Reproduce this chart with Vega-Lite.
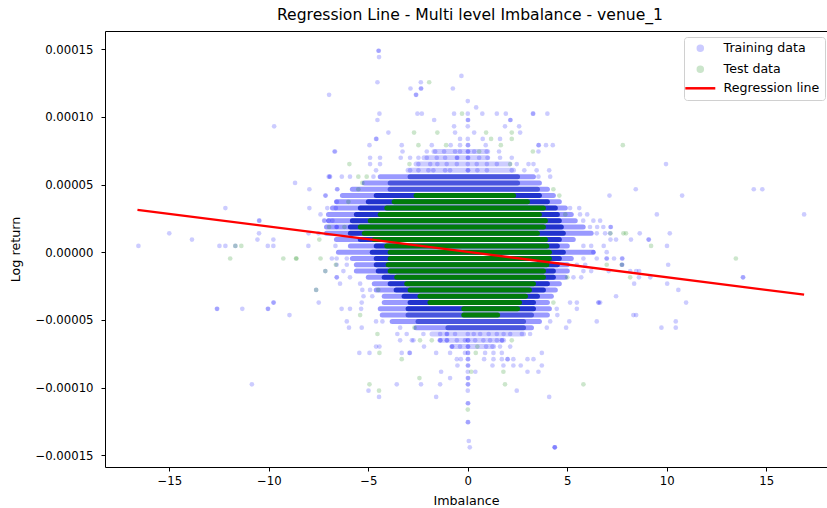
{
"$schema":"https://vega.github.io/schema/vega-lite/v6.json",
"width":722,"height":436,
"autosize":"none",
"padding":{"left":105,"top":31,"right":0,"bottom":41},
"title":{"text":"Regression Line - Multi level Imbalance - venue_1","fontSize":15.6,"font":"DejaVu Sans","fontWeight":"normal","color":"black","offset":7,"dx":4},
"config":{
 "font":"DejaVu Sans",
 "view":{"stroke":"black","strokeWidth":1},
 "axis":{"labelFont":"DejaVu Sans","labelFontSize":11.7,"labelColor":"black","titleFont":"DejaVu Sans","titleFontSize":12.7,"titleFontWeight":"normal","titleColor":"black","tickColor":"black","tickSize":4,"domain":false,"grid":false,"labelPadding":4},
 "legend":{"labelFont":"DejaVu Sans","labelFontSize":12.6,"labelColor":"black","fillColor":"white","strokeColor":"#d0d0d0","cornerRadius":3,"padding":5,"rowPadding":5,"labelOffset":17,"symbolOffset":5,"symbolStrokeWidth":2.5}
},
"datasets":{
"faint":[
{"ret":7.44e-5,"imb_lo":-1.7,"imb_hi":1.0},
{"ret":6.975e-5,"imb_lo":-2.2,"imb_hi":1.0},
{"ret":6.51e-5,"imb_lo":-2.6,"imb_hi":2.1},
{"ret":6.045e-5,"imb_lo":-3.0,"imb_hi":2.3},
{"ret":-6.045e-5,"imb_lo":-1.8,"imb_hi":2.8},
{"ret":-6.51e-5,"imb_lo":-1.4,"imb_hi":1.8},
{"ret":-6.975e-5,"imb_lo":-0.8,"imb_hi":1.3}
],
"outer":[
{"ret":5.58e-5,"imb_lo":-4.4,"imb_hi":3.3},
{"ret":5.115e-5,"imb_lo":-5.2,"imb_hi":3.6},
{"ret":4.65e-5,"imb_lo":-5.8,"imb_hi":4.0},
{"ret":4.185e-5,"imb_lo":-6.3,"imb_hi":4.3},
{"ret":3.72e-5,"imb_lo":-6.6,"imb_hi":4.6},
{"ret":3.255e-5,"imb_lo":-6.8,"imb_hi":4.9},
{"ret":2.79e-5,"imb_lo":-7.0,"imb_hi":5.2},
{"ret":2.325e-5,"imb_lo":-7.0,"imb_hi":5.4},
{"ret":1.86e-5,"imb_lo":-7.1,"imb_hi":5.8},
{"ret":1.395e-5,"imb_lo":-7.1,"imb_hi":6.2},
{"ret":9.3e-6,"imb_lo":-6.6,"imb_hi":5.3},
{"ret":4.65e-6,"imb_lo":-5.9,"imb_hi":5.0},
{"ret":0,"imb_lo":-6.5,"imb_hi":6.3},
{"ret":-4.65e-6,"imb_lo":-5.8,"imb_hi":5.2},
{"ret":-9.3e-6,"imb_lo":-5.6,"imb_hi":5.0},
{"ret":-1.395e-5,"imb_lo":-5.6,"imb_hi":5.0},
{"ret":-1.86e-5,"imb_lo":-5.0,"imb_hi":4.9},
{"ret":-2.325e-5,"imb_lo":-4.7,"imb_hi":4.6},
{"ret":-2.79e-5,"imb_lo":-4.6,"imb_hi":4.4},
{"ret":-3.255e-5,"imb_lo":-4.2,"imb_hi":4.2},
{"ret":-3.72e-5,"imb_lo":-4.2,"imb_hi":4.0},
{"ret":-4.185e-5,"imb_lo":-4.4,"imb_hi":4.1},
{"ret":-4.65e-5,"imb_lo":-4.3,"imb_hi":4.0},
{"ret":-5.115e-5,"imb_lo":-3.8,"imb_hi":3.6},
{"ret":-5.58e-5,"imb_lo":-2.6,"imb_hi":3.2}
],
"mid":[
{"ret":5.58e-5,"imb_lo":-2.9,"imb_hi":2.5},
{"ret":5.115e-5,"imb_lo":-3.9,"imb_hi":2.5},
{"ret":4.65e-5,"imb_lo":-3.9,"imb_hi":3.5},
{"ret":-4.65e-5,"imb_lo":-3.0,"imb_hi":3.2},
{"ret":-5.115e-5,"imb_lo":-2.5,"imb_hi":2.8},
{"ret":-5.58e-5,"imb_lo":-1.0,"imb_hi":2.8}
],
"inner":[
{"ret":4.185e-5,"imb_lo":-4.6,"imb_hi":3.6},
{"ret":3.72e-5,"imb_lo":-5.0,"imb_hi":4.0},
{"ret":3.255e-5,"imb_lo":-5.4,"imb_hi":4.4},
{"ret":2.79e-5,"imb_lo":-5.6,"imb_hi":4.5},
{"ret":2.325e-5,"imb_lo":-5.8,"imb_hi":4.6},
{"ret":1.86e-5,"imb_lo":-5.9,"imb_hi":4.7},
{"ret":1.395e-5,"imb_lo":-5.9,"imb_hi":4.8},
{"ret":9.3e-6,"imb_lo":-5.4,"imb_hi":4.6},
{"ret":4.65e-6,"imb_lo":-4.6,"imb_hi":4.5},
{"ret":0,"imb_lo":-4.8,"imb_hi":4.8},
{"ret":-4.65e-6,"imb_lo":-4.6,"imb_hi":4.6},
{"ret":-9.3e-6,"imb_lo":-4.6,"imb_hi":4.5},
{"ret":-1.395e-5,"imb_lo":-4.5,"imb_hi":4.3},
{"ret":-1.86e-5,"imb_lo":-4.2,"imb_hi":4.3},
{"ret":-2.325e-5,"imb_lo":-3.9,"imb_hi":4.0},
{"ret":-2.79e-5,"imb_lo":-3.6,"imb_hi":3.8},
{"ret":-3.255e-5,"imb_lo":-3.2,"imb_hi":3.5},
{"ret":-3.72e-5,"imb_lo":-2.9,"imb_hi":3.3},
{"ret":-4.185e-5,"imb_lo":-3.0,"imb_hi":3.3}
],
"green":[
{"ret":4.185e-5,"imb_lo":-2.6,"imb_hi":2.3},
{"ret":3.72e-5,"imb_lo":-3.7,"imb_hi":3.0},
{"ret":3.255e-5,"imb_lo":-4.07,"imb_hi":3.8},
{"ret":2.79e-5,"imb_lo":-4.4,"imb_hi":3.6},
{"ret":2.325e-5,"imb_lo":-4.9,"imb_hi":3.9},
{"ret":1.86e-5,"imb_lo":-5.4,"imb_hi":3.8},
{"ret":1.395e-5,"imb_lo":-5.2,"imb_hi":3.5},
{"ret":9.3e-6,"imb_lo":-4.7,"imb_hi":3.9},
{"ret":4.65e-6,"imb_lo":-4.07,"imb_hi":3.97},
{"ret":0,"imb_lo":-3.9,"imb_hi":4.1},
{"ret":-4.65e-6,"imb_lo":-3.9,"imb_hi":4.1},
{"ret":-9.3e-6,"imb_lo":-4.0,"imb_hi":3.97},
{"ret":-1.395e-5,"imb_lo":-3.9,"imb_hi":3.8},
{"ret":-1.86e-5,"imb_lo":-3.57,"imb_hi":3.8},
{"ret":-2.325e-5,"imb_lo":-3.07,"imb_hi":3.3},
{"ret":-2.79e-5,"imb_lo":-2.9,"imb_hi":3.1},
{"ret":-3.255e-5,"imb_lo":-2.4,"imb_hi":2.9},
{"ret":-3.72e-5,"imb_lo":-1.9,"imb_hi":2.6},
{"ret":-4.185e-5,"imb_lo":-0.2,"imb_hi":2.5},
{"ret":-4.65e-5,"imb_lo":-0.2,"imb_hi":1.5}
],
"train":[
{"imb":-6.97,"ret":1.1625e-4},{"imb":-9.73,"ret":9.3e-5},{"imb":-6.7,"ret":7.44e-5},{"imb":-6.99,"ret":5.58e-5},{"imb":-6.95,"ret":5.58e-5},{"imb":-8.68,"ret":5.115e-5},{"imb":-7.96,"ret":4.65e-5},{"imb":-6.55,"ret":4.65e-5},{"imb":-6.57,"ret":4.65e-5},{"imb":-7.16,"ret":4.185e-5},{"imb":-7.14,"ret":4.185e-5},{"imb":-6.58,"ret":3.72e-5},{"imb":-12.18,"ret":3.255e-5},{"imb":-7.96,"ret":3.255e-5},{"imb":-7.06,"ret":3.255e-5},{"imb":-6.63,"ret":3.255e-5},{"imb":-10.49,"ret":2.325e-5},{"imb":-10.47,"ret":2.325e-5},{"imb":-7.22,"ret":2.325e-5},{"imb":-6.99,"ret":2.325e-5},{"imb":-6.8,"ret":2.325e-5},{"imb":-7.2,"ret":2.325e-5},{"imb":-6.58,"ret":1.86e-5},{"imb":-6.6,"ret":1.86e-5},{"imb":-15.0,"ret":1.395e-5},{"imb":-10.49,"ret":1.395e-5},{"imb":-13.86,"ret":9.3e-6},{"imb":-10.57,"ret":9.3e-6},{"imb":-9.77,"ret":9.3e-6},{"imb":-16.55,"ret":4.65e-6},{"imb":-12.48,"ret":4.65e-6},{"imb":-12.18,"ret":4.65e-6},{"imb":-11.68,"ret":4.65e-6},{"imb":-10.05,"ret":4.65e-6},{"imb":-9.77,"ret":4.65e-6},{"imb":-8.01,"ret":4.65e-6},{"imb":-6.65,"ret":4.65e-6},{"imb":-6.83,"ret":-4.65e-6},{"imb":-7.16,"ret":-1.395e-5},{"imb":-6.58,"ret":-1.86e-5},{"imb":-7.62,"ret":-2.79e-5},{"imb":-7.49,"ret":-3.72e-5},{"imb":-12.61,"ret":-4.185e-5},{"imb":-12.59,"ret":-4.185e-5},{"imb":-11.33,"ret":-4.185e-5},{"imb":-10.05,"ret":-4.185e-5},{"imb":-10.03,"ret":-4.185e-5},{"imb":-9.77,"ret":-3.72e-5},{"imb":-9.75,"ret":-3.72e-5},{"imb":-8.96,"ret":-4.65e-5},{"imb":-10.85,"ret":-9.765e-5},
{"imb":9.96,"ret":6.51e-5},{"imb":7.12,"ret":4.185e-5},{"imb":8.44,"ret":4.65e-5},{"imb":10.77,"ret":4.185e-5},{"imb":14.37,"ret":4.65e-5},{"imb":14.8,"ret":4.65e-5},{"imb":9.5,"ret":2.79e-5},{"imb":16.9,"ret":2.79e-5},{"imb":6.65,"ret":2.325e-5},{"imb":6.81,"ret":1.86e-5},{"imb":7.17,"ret":1.86e-5},{"imb":7.19,"ret":1.86e-5},{"imb":8.64,"ret":1.395e-5},{"imb":10.15,"ret":1.395e-5},{"imb":7.17,"ret":9.3e-6},{"imb":7.45,"ret":9.3e-6},{"imb":8.2,"ret":9.3e-6},{"imb":9.08,"ret":9.3e-6},{"imb":9.1,"ret":9.3e-6},{"imb":10.01,"ret":4.65e-6},{"imb":6.83,"ret":4.65e-6},{"imb":6.97,"ret":-4.65e-6},{"imb":6.99,"ret":-4.65e-6},{"imb":7.35,"ret":-4.65e-6},{"imb":7.75,"ret":-4.65e-6},{"imb":7.77,"ret":-4.65e-6},{"imb":7.74,"ret":-9.3e-6},{"imb":7.76,"ret":-9.3e-6},{"imb":10.07,"ret":-9.3e-6},{"imb":7.08,"ret":-1.395e-5},{"imb":8.16,"ret":-1.395e-5},{"imb":8.46,"ret":-1.395e-5},{"imb":8.61,"ret":-1.395e-5},{"imb":8.6,"ret":-1.86e-5},{"imb":9.17,"ret":-1.86e-5},{"imb":13.82,"ret":-1.86e-5},{"imb":13.84,"ret":-1.86e-5},{"imb":8.36,"ret":-2.325e-5},{"imb":10.02,"ret":-2.325e-5},{"imb":10.58,"ret":-2.79e-5},{"imb":7.45,"ret":-3.255e-5},{"imb":10.97,"ret":-3.72e-5},{"imb":6.65,"ret":-3.72e-5},{"imb":8.32,"ret":-4.65e-5},{"imb":8.46,"ret":-4.65e-5},{"imb":10.45,"ret":-5.115e-5},{"imb":9.73,"ret":-5.58e-5},{"imb":10.45,"ret":-5.58e-5},
{"imb":-4.49,"ret":1.488e-4},{"imb":-4.47,"ret":1.488e-4},{"imb":-4.46,"ret":1.4415e-4},{"imb":-0.32,"ret":1.302e-4},{"imb":-4.54,"ret":1.2555e-4},{"imb":-2.36,"ret":1.2555e-4},{"imb":-2.88,"ret":1.209e-4},{"imb":-2.36,"ret":1.209e-4},{"imb":-2.34,"ret":1.209e-4},{"imb":-0.75,"ret":1.209e-4},{"imb":-2.61,"ret":1.1625e-4},{"imb":-2.59,"ret":1.1625e-4},{"imb":0,"ret":1.116e-4},{"imb":0.42,"ret":1.0695e-4},
{"imb":-4.44,"ret":1.023e-4},{"imb":-2.53,"ret":1.023e-4},{"imb":-2.31,"ret":1.023e-4},{"imb":-0.69,"ret":1.023e-4},{"imb":0,"ret":1.023e-4},{"imb":0.73,"ret":1.023e-4},{"imb":1.46,"ret":1.023e-4},{"imb":1.91,"ret":1.023e-4},{"imb":3.27,"ret":1.023e-4},{"imb":3.29,"ret":1.023e-4},{"imb":4.0,"ret":1.023e-4},
{"imb":-4.54,"ret":9.765e-5},{"imb":-1.69,"ret":9.765e-5},{"imb":0,"ret":9.765e-5},{"imb":0.02,"ret":9.765e-5},{"imb":2.13,"ret":9.765e-5},{"imb":2.15,"ret":9.765e-5},
{"imb":-0.69,"ret":9.3e-5},{"imb":0,"ret":9.3e-5},{"imb":1.87,"ret":9.3e-5},{"imb":2.58,"ret":9.3e-5},
{"imb":-3.99,"ret":8.835e-5},{"imb":-0.64,"ret":8.835e-5},{"imb":0.32,"ret":8.835e-5},{"imb":2.63,"ret":8.835e-5},
{"imb":-4.61,"ret":8.37e-5},{"imb":-4.59,"ret":8.37e-5},{"imb":-0.39,"ret":8.37e-5},{"imb":0,"ret":8.37e-5},{"imb":0.75,"ret":8.37e-5},{"imb":1.62,"ret":8.37e-5},
{"imb":-4.94,"ret":7.905e-5},{"imb":-3.32,"ret":7.905e-5},{"imb":-1.81,"ret":7.905e-5},{"imb":-0.86,"ret":7.905e-5},{"imb":-0.39,"ret":7.905e-5},{"imb":0,"ret":7.905e-5},{"imb":0.02,"ret":7.905e-5},{"imb":0.9,"ret":7.905e-5},{"imb":3.55,"ret":7.905e-5},{"imb":3.57,"ret":7.905e-5},{"imb":3.93,"ret":7.905e-5},{"imb":4.27,"ret":7.905e-5},
{"imb":-6.67,"ret":7.44e-5},{"imb":-3.28,"ret":7.44e-5},{"imb":-2.06,"ret":7.44e-5},{"imb":-1.64,"ret":7.44e-5},{"imb":-1.19,"ret":7.44e-5},{"imb":-0.64,"ret":7.44e-5},{"imb":-0.39,"ret":7.44e-5},{"imb":0,"ret":7.44e-5},{"imb":0.02,"ret":7.44e-5},{"imb":0.32,"ret":7.44e-5},{"imb":0.95,"ret":7.44e-5},{"imb":1.57,"ret":7.44e-5},{"imb":3.55,"ret":7.44e-5},
{"imb":-4.91,"ret":6.975e-5},{"imb":-4.41,"ret":6.975e-5},{"imb":-3.37,"ret":6.975e-5},{"imb":-2.9,"ret":6.975e-5},{"imb":-2.48,"ret":6.975e-5},{"imb":-2.06,"ret":6.975e-5},{"imb":-1.56,"ret":6.975e-5},{"imb":-1.14,"ret":6.975e-5},{"imb":-0.55,"ret":6.975e-5},{"imb":-0.53,"ret":6.975e-5},{"imb":0,"ret":6.975e-5},{"imb":0.02,"ret":6.975e-5},{"imb":0.57,"ret":6.975e-5},{"imb":0.99,"ret":6.975e-5},{"imb":1.62,"ret":6.975e-5},{"imb":2.21,"ret":6.975e-5},
{"imb":-4.91,"ret":6.51e-5},{"imb":-4.41,"ret":6.51e-5},{"imb":-2.48,"ret":6.51e-5},{"imb":-1.89,"ret":6.51e-5},{"imb":-1.53,"ret":6.51e-5},{"imb":-1.06,"ret":6.51e-5},{"imb":-0.55,"ret":6.51e-5},{"imb":0,"ret":6.51e-5},{"imb":0.45,"ret":6.51e-5},{"imb":0.96,"ret":6.51e-5},{"imb":1.46,"ret":6.51e-5},{"imb":2.46,"ret":6.51e-5},{"imb":3.05,"ret":6.51e-5},{"imb":3.3,"ret":6.51e-5},
{"imb":-4.61,"ret":6.045e-5},{"imb":-2.9,"ret":6.045e-5},{"imb":-2.48,"ret":6.045e-5},{"imb":-1.98,"ret":6.045e-5},{"imb":-1.73,"ret":6.045e-5},{"imb":-1.14,"ret":6.045e-5},{"imb":-0.89,"ret":6.045e-5},{"imb":0,"ret":6.045e-5},{"imb":0.02,"ret":6.045e-5},{"imb":0.48,"ret":6.045e-5},{"imb":0.96,"ret":6.045e-5},{"imb":2.21,"ret":6.045e-5},{"imb":2.84,"ret":6.045e-5},{"imb":3.46,"ret":6.045e-5},{"imb":4.09,"ret":6.045e-5},
{"imb":-6.92,"ret":5.58e-5},{"imb":-6.33,"ret":5.58e-5},{"imb":-5.92,"ret":5.58e-5},{"imb":-4.74,"ret":5.58e-5},{"imb":3.55,"ret":5.58e-5},{"imb":4.14,"ret":5.58e-5},
{"imb":-5.33,"ret":-3.72e-5},{"imb":5.14,"ret":-3.72e-5},{"imb":5.48,"ret":-3.72e-5},{"imb":6.56,"ret":-3.72e-5},{"imb":6.58,"ret":-3.72e-5},
{"imb":-6.34,"ret":-4.185e-5},{"imb":-5.92,"ret":-4.185e-5},{"imb":-5.36,"ret":-4.185e-5},{"imb":4.47,"ret":-4.185e-5},{"imb":5.48,"ret":-4.185e-5},
{"imb":4.5,"ret":-4.65e-5},
{"imb":-6.08,"ret":-5.115e-5},{"imb":-4.61,"ret":-5.115e-5},{"imb":-4.29,"ret":-5.115e-5},{"imb":4.14,"ret":-5.115e-5},{"imb":5.1,"ret":-5.115e-5},{"imb":6.48,"ret":-5.115e-5},
{"imb":-5.97,"ret":-5.58e-5},{"imb":-5.33,"ret":-5.58e-5},{"imb":-3.4,"ret":-5.58e-5},{"imb":3.97,"ret":-5.58e-5},{"imb":4.94,"ret":-5.58e-5},
{"imb":-3.54,"ret":-6.045e-5},{"imb":-3.07,"ret":-6.045e-5},{"imb":-2.23,"ret":-6.045e-5},{"imb":-1.39,"ret":-6.045e-5},{"imb":-1.06,"ret":-6.045e-5},{"imb":-1.04,"ret":-6.045e-5},{"imb":-0.64,"ret":-6.045e-5},{"imb":0,"ret":-6.045e-5},{"imb":0.3,"ret":-6.045e-5},{"imb":0.62,"ret":-6.045e-5},{"imb":1.05,"ret":-6.045e-5},{"imb":1.46,"ret":-6.045e-5},{"imb":1.8,"ret":-6.045e-5},{"imb":2.13,"ret":-6.045e-5},{"imb":2.72,"ret":-6.045e-5},{"imb":3.13,"ret":-6.045e-5},
{"imb":-3.4,"ret":-6.51e-5},{"imb":-2.81,"ret":-6.51e-5},{"imb":-2.73,"ret":-6.51e-5},{"imb":-1.39,"ret":-6.51e-5},{"imb":-1.37,"ret":-6.51e-5},{"imb":-1.06,"ret":-6.51e-5},{"imb":-1.04,"ret":-6.51e-5},{"imb":-0.55,"ret":-6.51e-5},{"imb":-0.14,"ret":-6.51e-5},{"imb":0,"ret":-6.51e-5},{"imb":0.02,"ret":-6.51e-5},{"imb":0.37,"ret":-6.51e-5},{"imb":0.78,"ret":-6.51e-5},{"imb":1.12,"ret":-6.51e-5},{"imb":1.46,"ret":-6.51e-5},{"imb":1.71,"ret":-6.51e-5},{"imb":1.73,"ret":-6.51e-5},
{"imb":-4.61,"ret":-6.975e-5},{"imb":-4.44,"ret":-6.975e-5},{"imb":-2.2,"ret":-6.975e-5},{"imb":-0.8,"ret":-6.975e-5},{"imb":-0.78,"ret":-6.975e-5},{"imb":-0.39,"ret":-6.975e-5},{"imb":0,"ret":-6.975e-5},{"imb":0.02,"ret":-6.975e-5},{"imb":0.92,"ret":-6.975e-5},{"imb":1.24,"ret":-6.975e-5},{"imb":1.62,"ret":-6.975e-5},{"imb":2.13,"ret":-6.975e-5},
{"imb":-5.45,"ret":-7.44e-5},{"imb":-4.94,"ret":-7.44e-5},{"imb":-3.32,"ret":-7.44e-5},{"imb":-2.93,"ret":-7.44e-5},{"imb":-2.91,"ret":-7.44e-5},{"imb":-1.59,"ret":-7.44e-5},{"imb":-0.89,"ret":-7.44e-5},{"imb":-0.14,"ret":-7.44e-5},{"imb":0,"ret":-7.44e-5},{"imb":0.02,"ret":-7.44e-5},{"imb":0.87,"ret":-7.44e-5},{"imb":1.29,"ret":-7.44e-5},{"imb":1.71,"ret":-7.44e-5},{"imb":3.72,"ret":-7.44e-5},
{"imb":-0.55,"ret":-7.905e-5},{"imb":-0.35,"ret":-7.905e-5},{"imb":0,"ret":-7.905e-5},{"imb":0.02,"ret":-7.905e-5},{"imb":0.82,"ret":-7.905e-5},{"imb":1.29,"ret":-7.905e-5},{"imb":1.71,"ret":-7.905e-5},{"imb":1.99,"ret":-7.905e-5},{"imb":2.01,"ret":-7.905e-5},{"imb":2.29,"ret":-7.905e-5},{"imb":3.0,"ret":-7.905e-5},{"imb":3.3,"ret":-7.905e-5},
{"imb":-0.52,"ret":-8.37e-5},{"imb":0,"ret":-8.37e-5},{"imb":0.02,"ret":-8.37e-5},{"imb":1.24,"ret":-8.37e-5},{"imb":1.79,"ret":-8.37e-5},{"imb":2.29,"ret":-8.37e-5},{"imb":2.66,"ret":-8.37e-5},{"imb":3.72,"ret":-8.37e-5},
{"imb":-1.34,"ret":-8.835e-5},{"imb":0,"ret":-8.835e-5},{"imb":0.38,"ret":-8.835e-5},{"imb":3.0,"ret":-8.835e-5},{"imb":3.55,"ret":-8.835e-5},
{"imb":-0.89,"ret":-9.3e-5},{"imb":0,"ret":-9.3e-5},{"imb":0.02,"ret":-9.3e-5},
{"imb":-3.57,"ret":-9.765e-5},{"imb":-2.35,"ret":-9.765e-5},{"imb":-1.39,"ret":-9.765e-5},{"imb":0,"ret":-9.765e-5},{"imb":0.02,"ret":-9.765e-5},
{"imb":-4.99,"ret":-1.023e-4},{"imb":0,"ret":-1.023e-4},{"imb":2.46,"ret":-1.023e-4},
{"imb":-4.46,"ret":-1.0695e-4},{"imb":-1.59,"ret":-1.0695e-4},{"imb":4.09,"ret":-1.0695e-4},
{"imb":0,"ret":-1.116e-4},{"imb":0.02,"ret":-1.116e-4},{"imb":0,"ret":-1.2555e-4},{"imb":0.02,"ret":-1.2555e-4},{"imb":0.05,"ret":-1.395e-4},{"imb":0.1,"ret":-1.4415e-4},{"imb":4.37,"ret":-1.4415e-4},{"imb":4.38,"ret":-1.4415e-4},{"imb":4.36,"ret":-1.4415e-4},
{"imb":6.48,"ret":1.395e-5},{"imb":6.9,"ret":1.395e-5},{"imb":7.15,"ret":1.395e-5},{"imb":6.31,"ret":0},{"imb":6.98,"ret":0},{"imb":6.14,"ret":1.86e-5},{"imb":6.5,"ret":1.86e-5},{"imb":5.81,"ret":4.65e-6},{"imb":6.2,"ret":4.65e-6},{"imb":5.81,"ret":-4.65e-6},{"imb":6.48,"ret":-4.65e-6},{"imb":5.48,"ret":-9.3e-6},{"imb":5.9,"ret":-9.3e-6},{"imb":5.81,"ret":-1.395e-5},{"imb":6.2,"ret":-1.395e-5},{"imb":5.31,"ret":-1.86e-5},{"imb":5.7,"ret":-1.86e-5},{"imb":5.8,"ret":2.325e-5},{"imb":6.31,"ret":2.325e-5},{"imb":5.64,"ret":2.79e-5},{"imb":6.0,"ret":2.79e-5},{"imb":5.14,"ret":3.255e-5},{"imb":5.6,"ret":3.255e-5},
{"imb":-6.59,"ret":-4.65e-6},{"imb":-6.08,"ret":-4.65e-6},{"imb":-6.59,"ret":-9.3e-6},{"imb":-6.08,"ret":-9.3e-6},{"imb":-6.25,"ret":-1.395e-5},{"imb":-6.59,"ret":-1.86e-5},{"imb":-5.92,"ret":-1.86e-5},{"imb":-6.42,"ret":-2.325e-5},{"imb":-5.41,"ret":-2.325e-5},{"imb":-4.91,"ret":-2.79e-5},{"imb":-5.3,"ret":-2.79e-5},{"imb":-5.24,"ret":-3.255e-5},{"imb":-4.8,"ret":-3.255e-5},{"imb":-7.4,"ret":2.79e-5},{"imb":-7.5,"ret":1.395e-5},{"imb":-8.0,"ret":1.395e-5}
],
"test":[
{"imb":-6.97,"ret":1.86e-5},{"imb":-7.46,"ret":9.3e-6},{"imb":-11.68,"ret":4.65e-6},{"imb":-11.38,"ret":4.65e-6},{"imb":-11.94,"ret":-4.65e-6},{"imb":-9.27,"ret":-4.65e-6},{"imb":-8.63,"ret":-4.65e-6},{"imb":-8.61,"ret":-4.65e-6},{"imb":-7.4,"ret":-4.65e-6},{"imb":-6.63,"ret":-9.3e-6},{"imb":-7.16,"ret":-1.395e-5},{"imb":-7.62,"ret":-2.79e-5},
{"imb":7.79,"ret":7.905e-5},{"imb":7.17,"ret":1.395e-5},{"imb":7.82,"ret":1.395e-5},{"imb":7.95,"ret":1.395e-5},{"imb":9.21,"ret":4.65e-6},{"imb":13.47,"ret":-4.65e-6},{"imb":6.98,"ret":-9.3e-6},{"imb":7.74,"ret":-9.3e-6},{"imb":8.16,"ret":-1.86e-5},
{"imb":-1.94,"ret":1.2555e-4},{"imb":-0.29,"ret":1.023e-4},{"imb":-2.7,"ret":8.835e-5},{"imb":-1.53,"ret":8.835e-5},{"imb":0.92,"ret":8.835e-5},{"imb":2.21,"ret":8.835e-5},{"imb":1.17,"ret":8.37e-5},{"imb":2.21,"ret":8.37e-5},{"imb":-2.48,"ret":7.905e-5},{"imb":-1.09,"ret":7.905e-5},{"imb":1.66,"ret":7.905e-5},{"imb":0.57,"ret":7.44e-5},{"imb":3.27,"ret":7.44e-5},{"imb":-5.95,"ret":6.51e-5},{"imb":-2.93,"ret":6.51e-5},{"imb":2.13,"ret":6.51e-5},{"imb":-5.5,"ret":5.58e-5},{"imb":-5.08,"ret":5.58e-5},
{"imb":-5.41,"ret":-4.65e-5},{"imb":-2.68,"ret":-5.58e-5},{"imb":-4.54,"ret":-6.045e-5},{"imb":-2.4,"ret":-6.51e-5},{"imb":-1.81,"ret":-6.51e-5},{"imb":2.21,"ret":-6.51e-5},{"imb":0.48,"ret":-6.975e-5},{"imb":-4.44,"ret":-7.44e-5},{"imb":0.4,"ret":-7.44e-5},{"imb":-3.32,"ret":-7.905e-5},{"imb":0.17,"ret":-8.835e-5},{"imb":1.79,"ret":-8.835e-5},{"imb":-2.43,"ret":-9.3e-5},{"imb":-4.94,"ret":-9.765e-5},{"imb":1.87,"ret":-9.765e-5},{"imb":5.81,"ret":-9.765e-5},{"imb":-4.46,"ret":-1.023e-4},{"imb":0,"ret":-1.1625e-4},
{"imb":-5.5,"ret":4.65e-5},{"imb":4.3,"ret":4.65e-5},{"imb":-6.0,"ret":3.72e-5},{"imb":4.9,"ret":2.79e-5},{"imb":-6.2,"ret":1.86e-5},{"imb":5.0,"ret":-1.86e-5},{"imb":-4.5,"ret":-2.79e-5},{"imb":4.3,"ret":-3.72e-5},{"imb":-5.3,"ret":5.115e-5},{"imb":4.6,"ret":4.185e-5}
],
"fit":[
{"imb":-16.6,"ret":3.13e-5},{"imb":16.9,"ret":-3.14e-5}
]
},
"layer":[
{"data":{"name":"faint"},"mark":{"type":"rule","color":"#0000ff","opacity":0.2,"strokeWidth":5,"strokeCap":"round","clip":true},
 "encoding":{
  "x":{"field":"imb_lo","type":"quantitative","scale":{"domain":[-18.23,18.05],"nice":false,"zero":false},"axis":{"values":[-15,-10,-5,0,5,10,15],"format":"d","title":"Imbalance","titlePadding":8}},
  "x2":{"field":"imb_hi"},
  "y":{"field":"ret","type":"quantitative","scale":{"domain":[-0.0001587,0.0001634],"nice":false,"zero":false},"axis":{"values":[-0.00015,-0.0001,-0.00005,0,0.00005,0.0001,0.00015],"format":".5f","title":"Log return","titlePadding":12,"labelPadding":8}}}},
{"data":{"name":"outer"},"mark":{"type":"rule","color":"#0000ff","opacity":0.4,"strokeWidth":5,"strokeCap":"round","clip":true},
 "encoding":{"x":{"field":"imb_lo","type":"quantitative"},"x2":{"field":"imb_hi"},"y":{"field":"ret","type":"quantitative"}}},
{"data":{"name":"mid"},"mark":{"type":"rule","color":"#1428c8","opacity":0.6,"strokeWidth":5,"strokeCap":"round","clip":true},
 "encoding":{"x":{"field":"imb_lo","type":"quantitative"},"x2":{"field":"imb_hi"},"y":{"field":"ret","type":"quantitative"}}},
{"data":{"name":"inner"},"mark":{"type":"rule","color":"#1428c8","opacity":0.9,"strokeWidth":5,"strokeCap":"round","clip":true},
 "encoding":{"x":{"field":"imb_lo","type":"quantitative"},"x2":{"field":"imb_hi"},"y":{"field":"ret","type":"quantitative"}}},
{"data":{"name":"train"},"mark":{"type":"point","filled":true,"size":22,"opacity":0.2,"clip":true},
 "encoding":{"x":{"field":"imb","type":"quantitative"},"y":{"field":"ret","type":"quantitative"},
  "color":{"datum":"Training data","type":"nominal","scale":{"domain":["Training data","Test data","Regression line"],"range":["#0000ff","#008000","#ff0000"]},
    "legend":{"title":null,"orient":"none","legendX":579,"legendY":6,"symbolOffset":5,"labelOffset":17,
      "encode":{"symbols":{"update":{
        "shape":{"signal":"datum.value === 'Regression line' ? 'stroke' : 'circle'"},
        "size":{"signal":"datum.value === 'Regression line' ? 900 : 25"},
        "opacity":{"signal":"datum.value === 'Regression line' ? 1 : 0.2"},
        "stroke":{"signal":"datum.value === 'Regression line' ? '#ff0000' : 'transparent'"},
        "strokeWidth":{"value":2.5}}}}}}}},
{"data":{"name":"green"},"mark":{"type":"rule","color":"#008000","opacity":0.95,"strokeWidth":5,"strokeCap":"round","clip":true},
 "encoding":{"x":{"field":"imb_lo","type":"quantitative"},"x2":{"field":"imb_hi"},"y":{"field":"ret","type":"quantitative"}}},
{"data":{"name":"test"},"mark":{"type":"point","filled":true,"size":22,"opacity":0.2,"clip":true},
 "encoding":{"x":{"field":"imb","type":"quantitative"},"y":{"field":"ret","type":"quantitative"},
  "color":{"datum":"Test data","type":"nominal",
    "legend":{"title":null,"orient":"none","legendX":579,"legendY":6,"symbolOffset":5,"labelOffset":17,
      "encode":{"symbols":{"update":{
        "shape":{"signal":"datum.value === 'Regression line' ? 'stroke' : 'circle'"},
        "size":{"signal":"datum.value === 'Regression line' ? 900 : 25"},
        "opacity":{"signal":"datum.value === 'Regression line' ? 1 : 0.2"},
        "stroke":{"signal":"datum.value === 'Regression line' ? '#ff0000' : 'transparent'"},
        "strokeWidth":{"value":2.5}}}}}}}},
{"data":{"name":"fit"},"mark":{"type":"line","strokeWidth":2.3,"clip":true},
 "encoding":{"x":{"field":"imb","type":"quantitative"},"y":{"field":"ret","type":"quantitative"},
  "color":{"datum":"Regression line","type":"nominal",
    "legend":{"title":null,"orient":"none","legendX":579,"legendY":6,"symbolOffset":5,"labelOffset":17,
      "encode":{"symbols":{"update":{
        "shape":{"signal":"datum.value === 'Regression line' ? 'stroke' : 'circle'"},
        "size":{"signal":"datum.value === 'Regression line' ? 900 : 25"},
        "opacity":{"signal":"datum.value === 'Regression line' ? 1 : 0.2"},
        "stroke":{"signal":"datum.value === 'Regression line' ? '#ff0000' : 'transparent'"},
        "strokeWidth":{"value":2.5}}}}}}}}
]
}
